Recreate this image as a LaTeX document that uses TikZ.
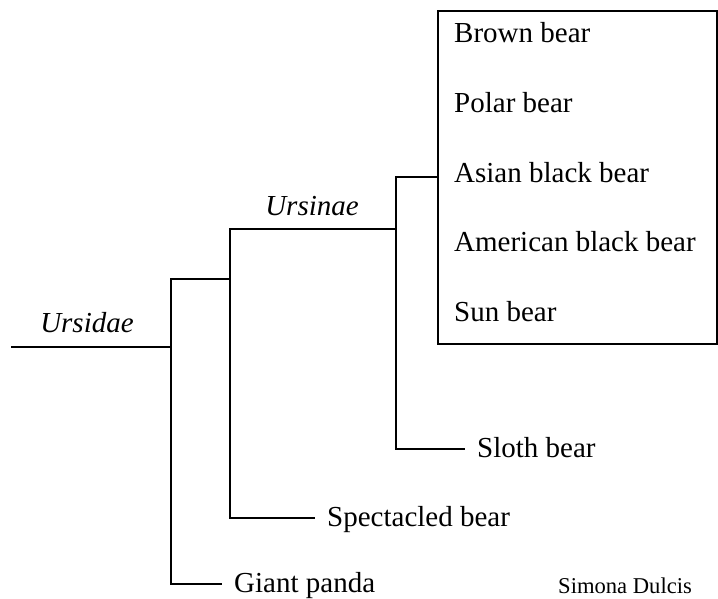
\documentclass[tikz,border=0pt]{standalone}
\usepackage{fontspec}
\setmainfont{Liberation Serif}
\usetikzlibrary{positioning}
\tikzset{
  branch/.style={line width=1.6pt, line join=miter},
  leaf/.style={anchor=west, inner xsep=12pt, inner ysep=0pt,
    text height=20.3pt, text depth=2.9pt, font=\fontsize{29}{34}\selectfont},
  inbox/.style={leaf, inner xsep=0pt},
  clade/.style={anchor=base, inner sep=0pt,
    font=\fontsize{29}{34}\selectfont\itshape},
  frame/.style={draw, line width=1.6pt, anchor=north west, inner sep=0pt,
    minimum width=279pt, minimum height=333pt},
  credit/.style={anchor=base west, inner sep=0pt,
    font=\fontsize{22.6}{27}\selectfont}
}

\begin{document}
\begin{tikzpicture}[x=1pt, y=-1pt]
  \useasboundingbox (0,0) rectangle (718,599);

  % forks of the tree
  \coordinate (c0) at (11,347);
  \coordinate (c1) at (171,279);
  \coordinate (c2) at (230,229);
  \coordinate (c3) at (396,177);

  % the five bears in the box
  \node[frame] (box) at (437,10) {};
  \node[inbox] (brown) at (454,34) {Brown bear};
  \node[inbox, below=46.1pt of brown.south west, anchor=north west] (polar) {Polar bear};
  \node[inbox, below=46.1pt of polar.south west, anchor=north west] (asian) {Asian black bear};
  \node[inbox, below=46.1pt of asian.south west, anchor=north west] (american) {American black bear};
  \node[inbox, below=46.1pt of american.south west, anchor=north west] (sun) {Sun bear};

  \node[leaf] (sloth) at (465,449) {Sloth bear};
  \node[leaf] (spect) at (315,518) {Spectacled bear};
  \node[leaf] (panda) at (222,584) {Giant panda};

  \node[clade] (ursidae) at (87,332) {Ursidae};
  \node[clade] (ursinae) at (312,215) {Ursinae};

  \node[credit] (author) at (558,593) {Simona Dulcis};

  \draw[branch] (c0) -- (c0 -| c1);
  \draw[branch] (c2 |- c1) -- (c1) |- (panda.west);
  \draw[branch] (c3 |- c2) -- (c2) |- (spect.west);
  \draw[branch] (box.west |- c3) -- (c3) |- (sloth.west);
\end{tikzpicture}
\end{document}
